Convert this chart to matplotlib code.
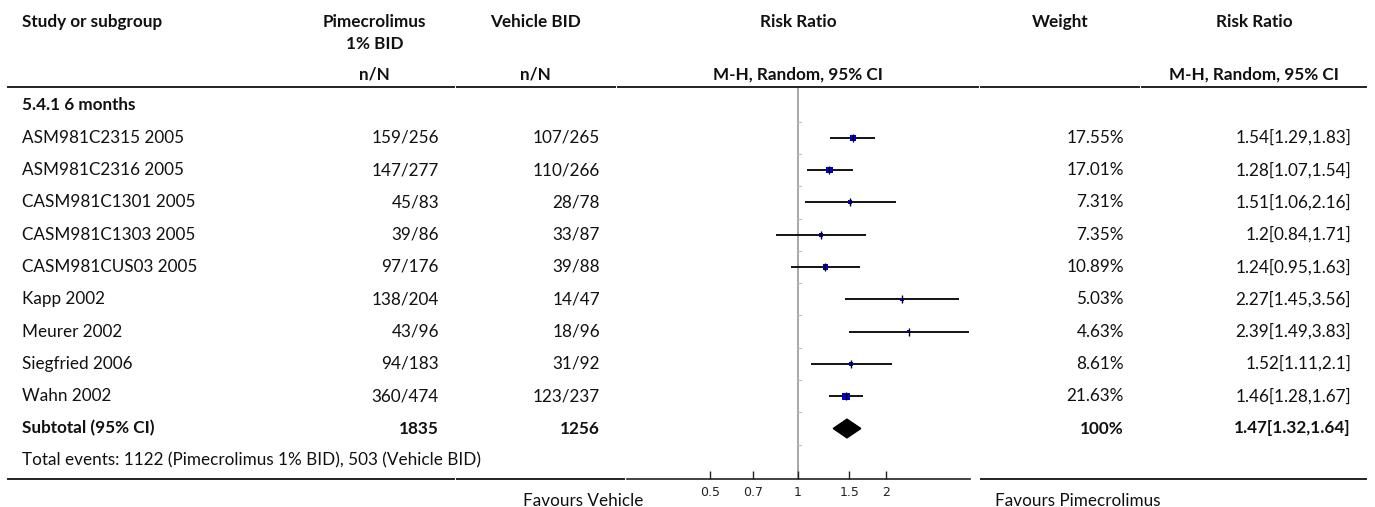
import matplotlib
matplotlib.use("Agg")
import matplotlib.pyplot as plt
import numpy as np
from matplotlib.patches import Polygon
from matplotlib.ticker import FixedLocator, NullLocator

plt.rcParams["font.family"] = ["Lato", "DejaVu Sans"]

studies = [
    "ASM981C2315 2005", "ASM981C2316 2005", "CASM981C1301 2005",
    "CASM981C1303 2005", "CASM981CUS03 2005", "Kapp 2002",
    "Meurer 2002", "Siegfried 2006", "Wahn 2002",
]
pime_events = [159, 147, 45, 39, 97, 138, 43, 94, 360]
pime_total = [256, 277, 83, 86, 176, 204, 96, 183, 474]
veh_events = [107, 110, 28, 33, 39, 14, 18, 31, 123]
veh_total = [265, 266, 78, 87, 88, 47, 96, 92, 237]
weights = [17.55, 17.01, 7.31, 7.35, 10.89, 5.03, 4.63, 8.61, 21.63]
rr = [1.54, 1.28, 1.51, 1.2, 1.24, 2.27, 2.39, 1.52, 1.46]
rr_lo = [1.29, 1.07, 1.06, 0.84, 0.95, 1.45, 1.49, 1.11, 1.28]
rr_hi = [1.83, 1.54, 2.16, 1.71, 1.63, 3.56, 3.83, 2.1, 1.67]
pooled = (1.47, 1.32, 1.64)
ticks = [0.5, 0.7, 1, 1.5, 2]

W, H = 1375, 507
FS = 12.3
row0, step = 105.5, 32.3


def row_y(k):
    return row0 + step * k


fig = plt.figure(figsize=(W / 100, H / 100), dpi=100)
tab = fig.add_axes([0, 0, 1, 1])
tab.set_xlim(0, W)
tab.set_ylim(H, 0)
tab.axis("off")


def txt(x, y, s, ha="left", bold=False, va="center"):
    tab.text(x, y, s, ha=ha, va=va, fontsize=FS, color="#111111",
             fontweight="bold" if bold else "normal")


# header
txt(22, 22, "Study or subgroup", bold=True)
txt(374.5, 22, "Pimecrolimus", ha="center", bold=True)
txt(374.5, 44, "1% BID", ha="center", bold=True)
txt(535.5, 22, "Vehicle BID", ha="center", bold=True)
txt(798, 22, "Risk Ratio", ha="center", bold=True)
txt(1060, 22, "Weight", ha="center", bold=True)
txt(1254, 22, "Risk Ratio", ha="center", bold=True)
txt(374.5, 75, "n/N", ha="center", bold=True)
txt(535.5, 75, "n/N", ha="center", bold=True)
txt(797.5, 75, "M-H, Random, 95% CI", ha="center", bold=True)
txt(1254, 75, "M-H, Random, 95% CI", ha="center", bold=True)

for a, b in [(7, 455), (456, 616), (617, 979), (980, 1140), (1141, 1367)]:
    tab.plot([a, b], [87, 87], color="#222222", lw=1.4, solid_capstyle="butt")
for a, b in [(7, 455), (456, 625), (980, 1367)]:
    tab.plot([a, b], [479, 479], color="#222222", lw=1.4, solid_capstyle="butt")

txt(22, row_y(0), "5.4.1 6 months", bold=True)
for i, name in enumerate(studies):
    y = row_y(i + 1)
    txt(22, y, name)
    txt(439, y, f"{pime_events[i]}/{pime_total[i]}", ha="right")
    txt(600, y, f"{veh_events[i]}/{veh_total[i]}", ha="right")
    txt(1124, y, f"{weights[i]:.2f}%", ha="right")
    txt(1351, y, f"{rr[i]:g}[{rr_lo[i]:g},{rr_hi[i]:g}]", ha="right")

ys = row_y(10)
txt(22, ys, "Subtotal (95% CI)", bold=True)
txt(439, ys, str(sum(pime_total)), ha="right", bold=True)
txt(600, ys, str(sum(veh_total)), ha="right", bold=True)
txt(1124, ys, f"{sum(weights):.0f}%", ha="right", bold=True)
txt(1351, ys, f"{pooled[0]:g}[{pooled[1]:g},{pooled[2]:g}]", ha="right", bold=True)
txt(22, row_y(11),
    f"Total events: {sum(pime_events)} (Pimecrolimus 1% BID), "
    f"{sum(veh_events)} (Vehicle BID)")

txt(643, 506, "Favours Vehicle", ha="right", va="baseline")
txt(995, 506, "Favours Pimecrolimus", ha="left", va="baseline")

# forest plot axes, log scale: 1 -> 798 px, 127 px per ln unit
px_per_ln = 127.0
ax_l, ax_r = 627, 970
ax_t, ax_b = 88, 479
ax = fig.add_axes([ax_l / W, 1 - ax_b / H, (ax_r - ax_l) / W, (ax_b - ax_t) / H])
ax.set_xscale("log")
ax.set_xlim(np.exp((ax_l - 798) / px_per_ln), np.exp((ax_r - 798) / px_per_ln))
ax.set_ylim((ax_b - row0) / step, (ax_t - row0) / step)
ax.patch.set_alpha(0)
for s in ["top", "left", "right"]:
    ax.spines[s].set_visible(False)
ax.spines["bottom"].set_linewidth(1.2)
ax.spines["bottom"].set_color("#222222")
ax.yaxis.set_visible(False)
ax.xaxis.set_major_locator(FixedLocator(ticks))
ax.xaxis.set_minor_locator(NullLocator())
ax.set_xticklabels([f"{t:g}" for t in ticks], fontfamily="DejaVu Sans")
ax.tick_params(axis="x", direction="in", length=6, width=1, labelsize=9,
               pad=5, colors="#222222")

ax.axvline(1, color="#a0a0a0", lw=1.3, zorder=1)
# little marks between rows on the line of no effect
for k in range(11):
    ax.plot([1, np.exp(3 / px_per_ln)], [k + 0.5, k + 0.5], color="#c0c0c0",
            lw=0.8, zorder=1)

yk = np.arange(1, len(studies) + 1)
ax.hlines(yk, rr_lo, rr_hi, color="black", lw=1.3, zorder=2)
side = 1.55 * np.sqrt(np.array(weights)) * 0.72
ax.scatter(rr, yk, marker="s", s=side ** 2, color="#0000cc", zorder=3,
           linewidths=0)
ax.scatter(rr, yk, marker="|", s=(8 * 0.72) ** 2, color="black", lw=1,
           zorder=4)

c, lo, hi = pooled
hh = 0.29
ax.add_patch(Polygon([(lo, 10), (c, 10 - hh), (hi, 10), (c, 10 + hh)],
                     closed=True, color="black", zorder=3))

fig.savefig("out.png", dpi=100)
